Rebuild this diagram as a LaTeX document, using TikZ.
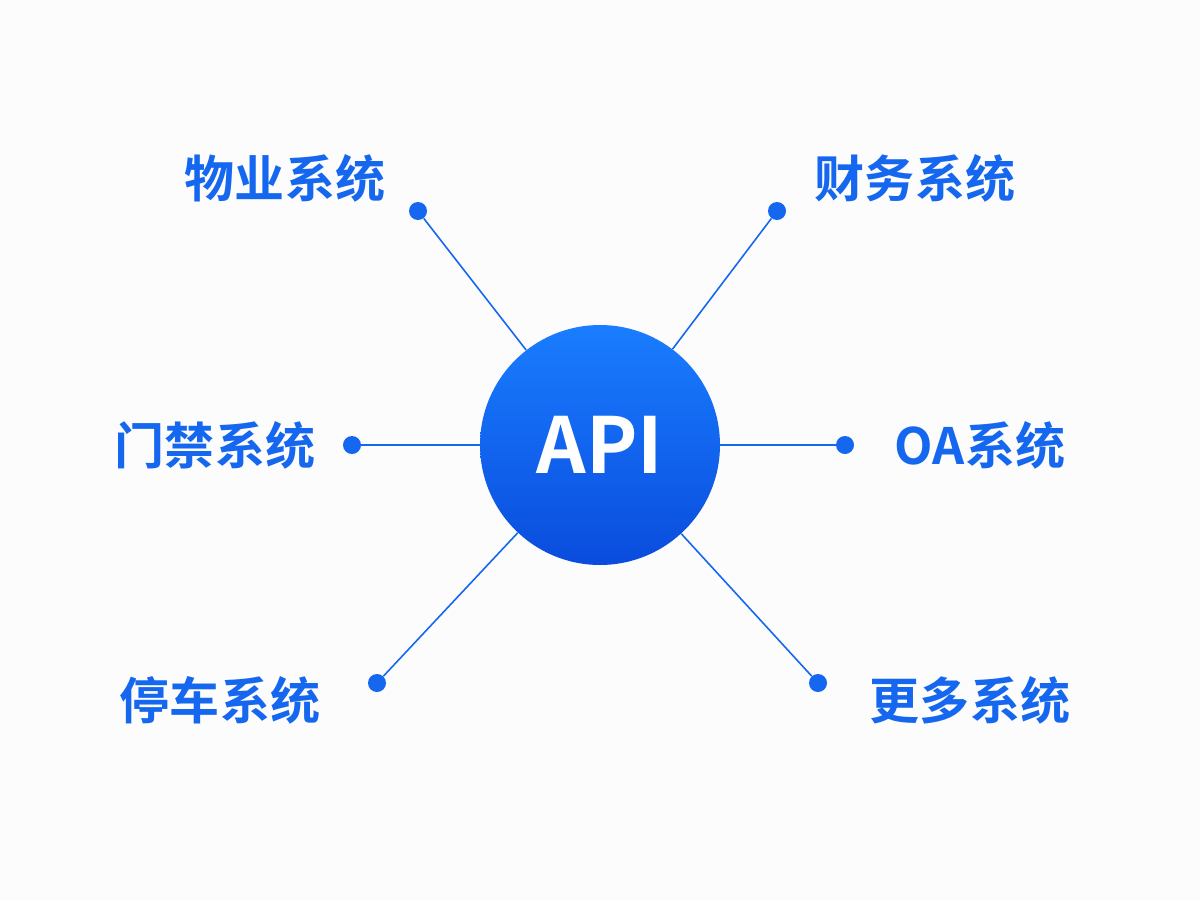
\documentclass[tikz,border=0pt]{standalone}
\usepackage{fontspec}
\setmainfont{Noto Sans CJK SC}
\newfontfamily\cjkbold{Noto Sans CJK SC Bold}
\definecolor{apiblue}{HTML}{1467EE}
\definecolor{apitop}{HTML}{1A7DFF}
\definecolor{apibot}{HTML}{0A4CDD}
\tikzset{
  sys/.style={text=apiblue,font=\cjkbold\fontsize{28.5}{32}\selectfont},
  dot/.style={circle,fill=apiblue,inner sep=0pt,minimum size=0.36cm},
  link/.style={apiblue,line width=0.9pt}
}
\begin{document}
\begin{tikzpicture}[x=0.02cm,y=-0.02cm]
  \fill[white!99!black] (0,0) rectangle (1200,900);
  \node[circle,minimum size=4.8cm,top color=apitop,bottom color=apibot,draw=none,
        text=white,font=\cjkbold\fontsize{44}{50}\selectfont] (api) at (600,445) {API};
  \node[dot] (d1) at (418,211) {};
  \node[dot] (d2) at (777,211) {};
  \node[dot] (d3) at (352,445) {};
  \node[dot] (d4) at (845,445) {};
  \node[dot] (d5) at (377,683) {};
  \node[dot] (d6) at (818,683) {};
  \foreach \d in {d1,d2,d3,d4,d5,d6}
    \draw[link] (\d) -- (api);
  \node[sys] (s1) at (285,178) {物业系统};
  \node[sys] (s2) at (915,178) {财务系统};
  \node[sys] (s3) at (215,445) {门禁系统};
  \node[sys] (s4) at (980,445) {OA系统};
  \node[sys] (s5) at (220,700) {停车系统};
  \node[sys] (s6) at (970,700) {更多系统};
\end{tikzpicture}
\end{document}
